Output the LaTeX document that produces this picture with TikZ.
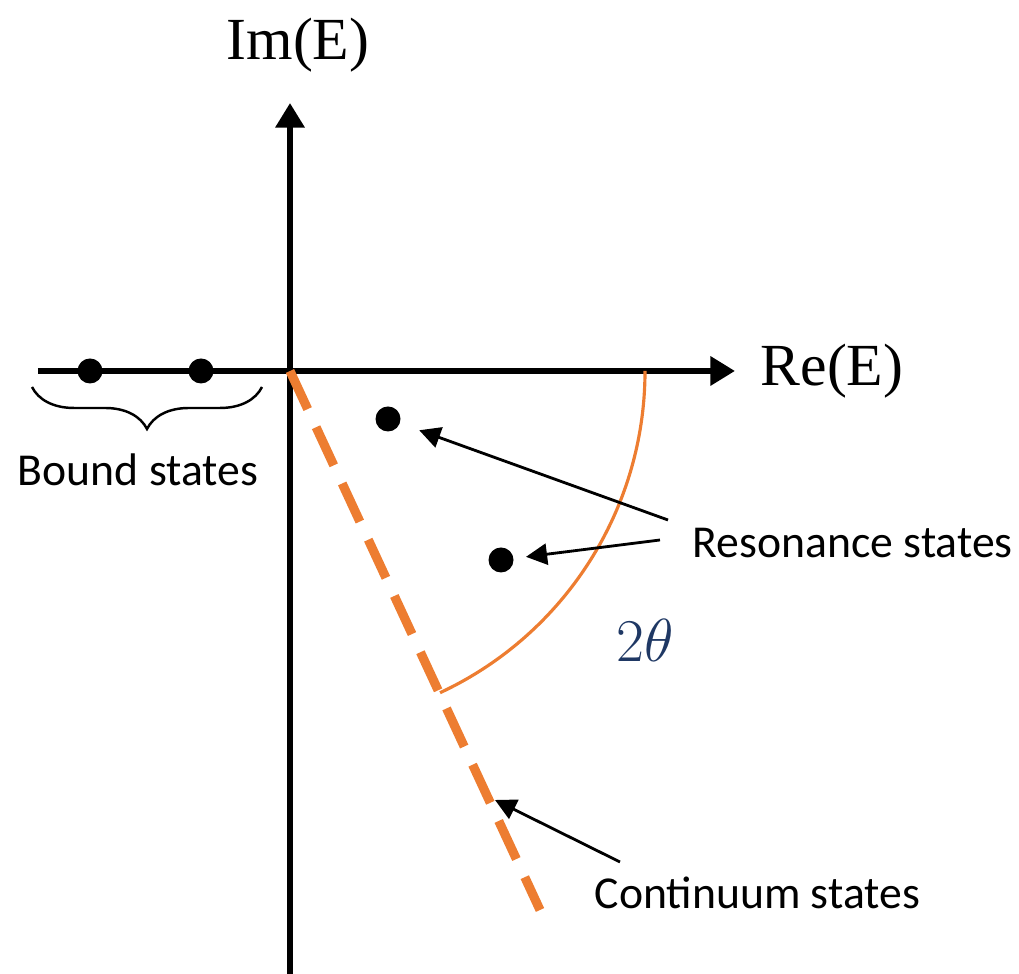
\documentclass[tikz,border=0pt]{standalone}
\usepackage{fontspec}
\setmainfont{Liberation Serif}
\newfontfamily\labelfont{Carlito}
\usetikzlibrary{decorations.pathreplacing,arrows.meta}
\definecolor{cutorange}{HTML}{ED7D31}
\definecolor{angleblue}{HTML}{1F3864}

\begin{document}
\begin{tikzpicture}[
  axis/.style={line width=1.7pt, -{Triangle[length=7pt,width=8pt]}},
  dot/.style={circle, fill=black, inner sep=0pt, minimum size=0.25cm},
  pointer/.style={line width=0.8pt, -{Triangle[length=6pt,width=6pt]}},
  lbl/.style={font=\labelfont\fontsize{13}{15}\selectfont, inner sep=0pt},
  axlabel/.style={font=\fontsize{17}{19}\selectfont, inner sep=0pt}
]
  \useasboundingbox (-2.90,3.71) rectangle (7.29,-6.03);

  % axes
  \coordinate (O) at (0,0);
  \coordinate (xstart) at (-2.52,0);
  \coordinate (xend) at (4.45,0);
  \coordinate (ystart) at (0,-6.03);
  \coordinate (yend) at (0,2.68);
  \draw[axis] (xstart) -- (xend);
  \draw[axis] (ystart) -- (yend);
  \node (im) [axlabel] at (0.08,3.26) {Im(E)};
  \node (re) [axlabel, anchor=west] at (4.70,0) {Re(E)};

  % rotated cut and angle
  \coordinate (cutend) at (2.50,-5.39);
  \draw[cutorange, line width=2.6pt, dash pattern=on 0.42cm off 0.2cm] (O) -- (cutend);
  \draw[cutorange, line width=0.9pt] (3.55,0) arc[start angle=0, end angle=-65, radius=3.55];
  \node (angle) [text=angleblue, font=\fontsize{17}{19}\selectfont] at (3.55,-2.69) {$2\theta$};

  % states
  \node (b1) [dot] at (-2.00,0) {};
  \node (b2) [dot] at (-0.89,0) {};
  \node (r1) [dot] at (0.98,-0.48) {};
  \node (r2) [dot] at (2.11,-1.89) {};

  \draw[line width=0.7pt, decorate, decoration={brace, mirror, amplitude=0.42cm}]
    (-2.58,-0.16) -- (-0.28,-0.16);
  \node (bound) [lbl] at (-1.52,-0.99) {Bound states};

  \node (res) [lbl, anchor=west] at (4.02,-1.72) {Resonance states};
  \draw[pointer, shorten >=0.2cm] ([shift={(-0.24,0.23)}]res.west) -- (r1);
  \draw[pointer, shorten >=0.12cm] ([shift={(-0.32,0.03)}]res.west) -- (r2);

  \node (cont) [lbl, anchor=west] at (3.04,-5.22) {Continuum states};
  \coordinate (cutpt) at (2.05,-4.29);
  \draw[pointer] ([shift={(0.26,0.31)}]cont.west) -- (cutpt);
\end{tikzpicture}
\end{document}
